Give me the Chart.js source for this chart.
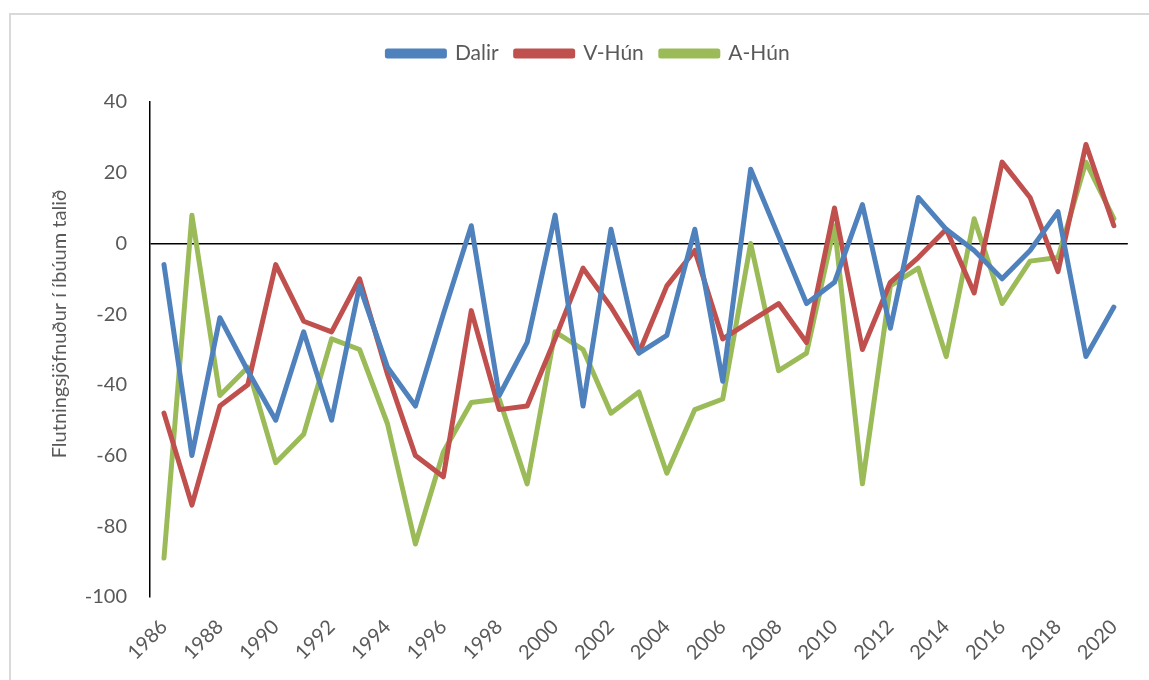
<!DOCTYPE html>
<html>
<head>
<meta charset="utf-8">
<script src="https://cdn.jsdelivr.net/npm/chart.js@4"></script>
<style>
    body { margin: 0; background: #fff; }
    #frame { position: absolute; left: 9px; top: 13px; width: 1200px; height: 700px;
             border-top: 2px solid #d9d9d9; border-left: 2px solid #d9d9d9; }
    #wrap { position: absolute; left: 0; top: 0; width: 1149px; height: 680px; }
</style>
</head>
<body>
<div id="frame"></div>
<div id="wrap"><canvas id="chart"></canvas></div>
<script>
const years = ['1986', '1987', '1988', '1989', '1990', '1991', '1992', '1993', '1994', '1995',
    '1996', '1997', '1998', '1999', '2000', '2001', '2002', '2003', '2004', '2005',
    '2006', '2007', '2008', '2009', '2010', '2011', '2012', '2013', '2014', '2015',
    '2016', '2017', '2018', '2019', '2020'];
const dalir = [-6, -60, -21, -36, -50, -25, -50, -12, -35, -46, -20, 5, -43, -28, 8, -46, 4, -31,
    -26, 4, -39, 21, 2, -17, -11, 11, -24, 13, 4, -2, -10, -2, 9, -32, -18];
const vHun = [-48, -74, -46, -40, -6, -22, -25, -10, -37, -60, -66, -19, -47, -46, -27, -7, -18, -31,
    -12, -2, -27, -22, -17, -28, 10, -30, -11, -4, 4, -14, 23, 13, -8, 28, 5];
const aHun = [-89, 8, -43, -35, -62, -54, -27, -30, -51, -85, -59, -45, -44, -68, -25, -30, -48, -42,
    -65, -47, -44, 0, -36, -31, 5, -68, -12, -7, -32, 7, -17, -5, -4, 23, 7];
const yTitle = 'Flutningsjöfnuður í íbúum talið';

const grey = '#595959';

function line(label, data, color) {
    return {
        label: label, data: data,
        borderColor: color, backgroundColor: color,
        borderWidth: 5, pointRadius: 0, tension: 0,
        borderJoinStyle: 'round', borderCapStyle: 'round'
    };
}

// more room under the legend
const legendGap = {
    id: 'legendGap',
    beforeInit(chart) {
        const fit = chart.legend.fit;
        chart.legend.fit = function () {
            fit.bind(chart.legend)();
            this.height += 28;
        };
    }
};

// y axis title, placed like the original (not centred on the plot)
const yTitlePlugin = {
    id: 'yTitle',
    afterDraw(chart) {
        const c = chart.ctx;
        c.save();
        c.translate(60, 324);
        c.rotate(-Math.PI / 2);
        c.font = '20px Lato';
        c.fillStyle = grey;
        c.textAlign = 'center';
        c.textBaseline = 'middle';
        c.fillText(yTitle, 0, 0);
        c.restore();
    }
};

new Chart(document.getElementById('chart'), {
    type: 'line',
    data: {
        labels: years,
        datasets: [
            line('Dalir', dalir, '#4F81BD'),
            line('V-Hún', vHun, '#C0504D'),
            line('A-Hún', aHun, '#9BBB59')
        ]
    },
    plugins: [legendGap, yTitlePlugin],
    options: {
        responsive: true,
        maintainAspectRatio: false,
        animation: false,
        layout: { padding: { left: 40, right: 12, top: 26, bottom: 0 } },
        plugins: {
            tooltip: { enabled: false },
            legend: {
                position: 'top',
                labels: {
                    boxWidth: 57, boxHeight: 5, padding: 17,
                    color: grey, font: { family: 'Lato', size: 21 }
                }
            }
        },
        scales: {
            x: {
                offset: true,
                afterFit: (scale) => { scale.height = 83; },
                grid: { display: false, drawTicks: false },
                border: { display: false },
                ticks: {
                    autoSkip: false, minRotation: 45, maxRotation: 45, padding: 18,
                    color: grey, font: { family: 'Lato', size: 20 },
                    callback: function (val, i) { return i % 2 === 0 ? this.getLabelForValue(val) : ''; }
                }
            },
            y: {
                min: -100, max: 40,
                afterFit: (scale) => { scale.width = 110; },
                grid: {
                    drawTicks: false,
                    color: (ctx) => ctx.tick && ctx.tick.value === 0 ? '#000' : 'rgba(0,0,0,0)',
                    lineWidth: 1.6
                },
                border: { display: true, color: '#000', width: 1.5 },
                ticks: { stepSize: 20, padding: 23, color: grey, font: { family: 'Lato', size: 20 } }
            }
        }
    }
});
</script>
</body>
</html>
